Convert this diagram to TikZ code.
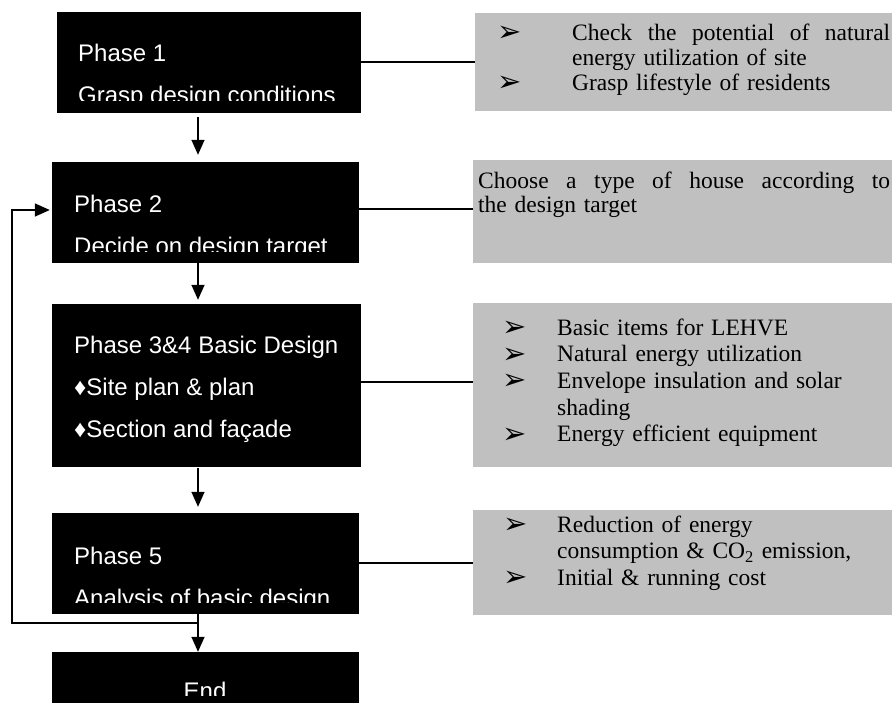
\documentclass[tikz,border=0pt]{standalone}
\usepackage{fontspec}
\setmainfont{Liberation Serif}
\newfontfamily\arialfont{Liberation Sans}
\newfontfamily\dingfont{DejaVu Sans}
\usetikzlibrary{arrows.meta}

\definecolor{notegray}{HTML}{C0C0C0}

% bullet line and follow-on line of a note, indent #1
\newcommand{\pointer}{{\dingfont\fontsize{29}{29}\selectfont\raisebox{-1.5pt}{➢}}}
\newcommand{\bitem}[2]{\noindent\makebox[#1][l]{\pointer}#2\par}
\newcommand{\bcont}[2]{\noindent\hspace*{#1}#2\par}

\tikzset{
  phasebox/.style={fill=black, draw=black, inner sep=0pt, minimum height=100pt},
  phasetext/.style={text=white, anchor=base west, inner sep=0pt, align=left,
    font=\arialfont\fontsize{24}{42}\selectfont},
  notebox/.style={fill=notegray, inner sep=0pt},
  notetext/.style={anchor=base west, inner sep=0pt, font=\fontsize{23.5}{26.7}\selectfont},
  flow/.style={line width=1.5pt, -{Triangle[width=13pt,length=15pt]}},
  link/.style={line width=1.5pt}
}

\begin{document}
\begin{tikzpicture}[x=1pt, y=-1pt]
\useasboundingbox (0,0) rectangle (892,702);

% phases
\node[phasebox, minimum width=303pt] (p1) at (208.5,62) {};
\node[phasebox, minimum width=306pt] (p2) at (205,212) {};
\node[phasebox, minimum width=308pt, minimum height=162pt] (p34) at (206,385) {};
\node[phasebox, minimum width=306pt] (p5) at (205,563) {};
\node[phasebox, minimum width=306pt, minimum height=50pt] (pend) at (205,677) {};

\begin{scope}
\clip (p1.north west) rectangle (360,100);
\node[phasetext] (p1text) at (78,103.5) {Phase 1\\Grasp design conditions};
\end{scope}
\begin{scope}
\clip (p2.north west) rectangle (358,251);
\node[phasetext] (p2text) at (74,254) {Phase 2\\Decide on design target};
\end{scope}
\node[phasetext] (p34text) at (74,437) {Phase 3\&4 Basic Design\\
  ♦Site plan \& plan\\♦Section and façade};
\begin{scope}
\clip (p5.north west) rectangle (358,602);
\node[phasetext] (p5text) at (74,606) {Phase 5\\Analysis of basic design};
\end{scope}
\begin{scope}
\clip (pend.north west) rectangle (358,695);
\node[phasetext, anchor=base] (endtext) at (205,699) {End};
\end{scope}

% notes
\node[notebox, minimum width=417pt, minimum height=98pt] (g1) at (683.5,62) {};
\node[notebox, minimum width=419pt, minimum height=103pt] (g2) at (682.5,211.5) {};
\node[notebox, minimum width=419pt, minimum height=164pt] (g3) at (682.5,385) {};
\node[notebox, minimum width=419pt, minimum height=105pt] (g4) at (682.5,562.5) {};

\node[notetext, text width=393pt, font=\fontsize{23.5}{25}\selectfont] (g1text) at (497,40) {%
  \bitem{75pt}{\hbox to 318pt{Check\hfill the\hfill potential\hfill of\hfill natural}}%
  \bcont{75pt}{energy utilization of site}%
  \bitem{75pt}{Grasp lifestyle of residents}};
\node[notetext, text width=412pt, font=\fontsize{23.5}{24}\selectfont] (g2text) at (478,188) {%
  \noindent\hbox to 412pt{Choose\hfill a\hfill type\hfill of\hfill house\hfill according\hfill to}\par
  \noindent the design target};
\node[notetext, text width=385pt] (g3text) at (502,335) {%
  \bitem{55pt}{Basic items for LEHVE}%
  \bitem{55pt}{Natural energy utilization}%
  \bitem{55pt}{Envelope insulation and solar}%
  \bcont{55pt}{shading}%
  \bitem{55pt}{Energy efficient equipment}};
\node[notetext, text width=385pt] (g4text) at (503,532) {%
  \bitem{54pt}{Reduction of energy}%
  \bcont{54pt}{consumption \& CO\textsubscript{2} emission,}%
  \bitem{54pt}{Initial \& running cost}};

% flow
\coordinate (spine) at (198,0);
\draw[flow, shorten <=5pt, shorten >=7pt] (p1.south -| spine) -- (p2.north -| spine);
\draw[flow, shorten <=1pt, shorten >=4pt] (p2.south -| spine) -- (p34.north -| spine);
\draw[flow, shorten <=2pt, shorten >=6pt] (p34.south -| spine) -- (p5.north -| spine);
\draw[flow] (p5.south -| spine) -- (pend.north -| spine);
\coordinate (back) at (12,623);
\draw[flow, shorten >=2pt] (p5.south -| spine) |- (back) |- ([yshift=2pt]p2.west);

\draw[link] (p1.east) -- (p1.east -| g1.west);
\draw[link] ([yshift=3pt]p2.east) -- ([yshift=3pt]p2.east -| g2.west);
\draw[link] ([yshift=3pt]p34.east) -- ([yshift=3pt]p34.east -| g3.west);
\draw[link] (p5.east) -- (p5.east -| g4.west);
\end{tikzpicture}
\end{document}
